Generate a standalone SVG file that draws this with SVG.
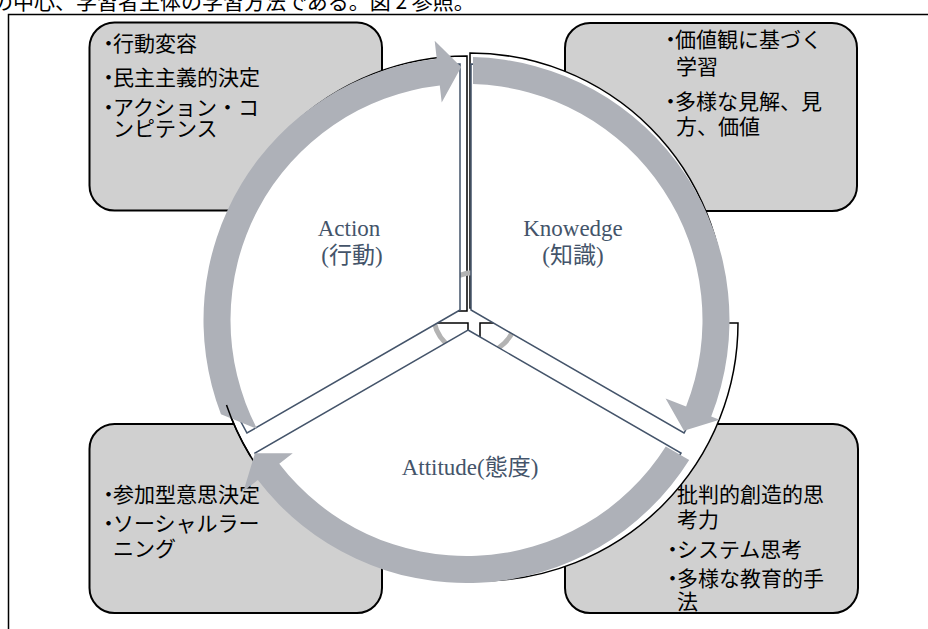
<svg xmlns="http://www.w3.org/2000/svg" width="928" height="629" viewBox="0 0 928 629">
<style>
.box{fill:#D0D0D0;stroke:#000;stroke-width:2}
.bt{font-family:"Noto Sans CJK JP","Noto Sans",sans-serif;font-size:21px;fill:#000}
.quad{fill:#fff;stroke:#000;stroke-width:1.5}
.sec{fill:#fff;stroke:#44546A;stroke-width:1.5}
.arr{fill:#AEB1B8;stroke:none}
.lbl{font-family:"Liberation Serif","Noto Sans CJK JP",serif;font-size:23px;fill:#44546A;text-anchor:middle}
</style>
<rect width="928" height="629" fill="#fff"/>
<text x="-8" y="8.5" style="font-family:'Noto Sans CJK JP',sans-serif;font-size:21px;fill:#000">の中心、学習者主体の学習方法である。図 2 参照。</text>
<path d="M8.5,629 V14.5 H928" fill="none" stroke="#000" stroke-width="1.5"/>

<g id="box-action">
<rect class="box" x="89.5" y="22.5" width="292.5" height="188" rx="25"/>
<text class="bt" x="98" y="51">・<tspan dx="-6">行動変容</tspan></text>
<text class="bt" x="98" y="85">・<tspan dx="-6">民主主義的決定</tspan></text>
<text class="bt" x="98" y="115">・<tspan dx="-6">アクション・コ</tspan></text>
<text class="bt" x="113" y="136">ンピテンス</text>
</g>
<g id="box-knowledge">
<rect class="box" x="565" y="23" width="292" height="188" rx="25"/>
<text class="bt" x="660" y="46.5">・<tspan dx="-6">価値観に基づく</tspan></text>
<text class="bt" x="676" y="74">学習</text>
<text class="bt" x="660" y="109">・<tspan dx="-6">多様な見解、見</tspan></text>
<text class="bt" x="676" y="134">方、価値</text>
</g>
<g id="box-attitude">
<rect class="box" x="89.5" y="424" width="292.5" height="189" rx="25"/>
<text class="bt" x="98" y="502">・<tspan dx="-6">参加型意思決定</tspan></text>
<text class="bt" x="98" y="530.5">・<tspan dx="-6">ソーシャルラー</tspan></text>
<text class="bt" x="113" y="555.5">ニング</text>
</g>
<g id="box-skills">
<rect class="box" x="565" y="424" width="293" height="189" rx="25"/>
<text class="bt" x="677" y="502">批判的創造的思</text>
<text class="bt" x="677" y="527">考力</text>
<text class="bt" x="662" y="557">・<tspan dx="-6">システム思考</tspan></text>
<text class="bt" x="662" y="585.5">・<tspan dx="-6">多様な教育的手</tspan></text>
<text class="bt" x="677" y="609">法</text>
</g>

<g id="quadrants">
<path class="quad" d="M467,311 V56 A255,255 0 0 0 212,311 Z"/>
<path class="quad" d="M470,308 V53 A255,255 0 0 1 725,308 Z"/>
<path class="quad" d="M468,323 V578 A255,255 0 0 1 213,323 Z"/>
<path class="quad" d="M480,323 H738 A258,258 0 0 1 480,581 Z"/>
</g>
<circle cx="475" cy="314" r="41.5" fill="none" stroke="#B3B3B3" stroke-width="5"/>

<g id="sector-action">
<path class="sec" d="M460,310 L460,64 A246,246 0 0 0 247,433 Z"/>
<text class="lbl" x="349" y="236">Action</text>
<text class="lbl" x="352" y="263">(行動)</text>
</g>
<g id="sector-knowledge">
<path class="sec" d="M471,310 L471,64 A246,246 0 0 1 684,433 Z"/>
<text class="lbl" x="573" y="236">Knowedge</text>
<text class="lbl" x="573" y="263">(知識)</text>
</g>
<g id="sector-attitude">
<path class="sec" d="M468,330 L681,453 A246,246 0 0 1 255,453 Z"/>
<text class="lbl" x="470" y="475">Attitude(態度)</text>
</g>

<g id="connectors">
<path class="arr" d="M220.97,414.25 A263,263 0 0 1 436.73,58.69 L434.69,40.81 L461.2,67.1 L441.71,102.41 L439.78,85.52 A236,236 0 0 0 257.17,428.97 Z"/>
<path class="arr" d="M473,57.1 A263,263 0 0 1 711.20,416.39 L719.57,419.69 L683.91,430.77 L665.61,398.43 L686.08,406.49 A236,236 0 0 0 473,84.1 Z"/>
<path class="arr" d="M689.2,460 A263,263 0 0 1 257.85,480.10 L243.57,491.06 L254.95,453.21 L292.76,453.32 L279.27,463.67 A236,236 0 0 0 665.8,446.5 Z"/>
</g>
<path d="M226.5,405 A255,255 0 0 0 250.4,456" fill="none" stroke="#000" stroke-width="1.5"/>
</svg>
